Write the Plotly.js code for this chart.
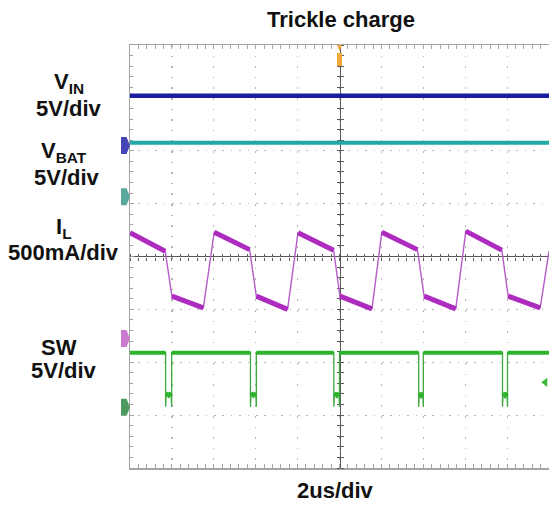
<!DOCTYPE html>
<html>
<head>
<meta charset="utf-8">
<script src="https://cdn.plot.ly/plotly-3.0.1.min.js"></script>
<style>html,body{margin:0;padding:0;background:#fff;}#chart{width:549px;height:507px;}</style>
</head>
<body>
<div id="chart"></div>
<script>
// ---- Data (time in microseconds, level in screen divisions) ----
const vinTime = [0, 20];
const vinDiv = [3.04, 3.04];

const vbatTime = [0, 20];
const vbatDiv = [2.15, 2.15];

const ilTime = [0, 1.68, 2.0, 3.5, 4.02, 5.71, 6.03, 7.52, 8.02, 9.72, 10.02, 11.55, 12.02, 13.72, 14.04, 15.55, 16.03, 17.75, 18.05, 19.58, 20.0];
const ilDiv  = [0.45, 0.10, -0.75, -0.97, 0.46, 0.13, -0.75, -1.0, 0.45, 0.12, -0.75, -0.99, 0.46, 0.13, -0.75, -0.99, 0.48, 0.12, -0.75, -0.97, 0.10];

const swTime = [0,
  1.70, 1.70, 1.73, 1.85, 1.96, 1.99, 1.99,
  5.75, 5.75, 5.78, 5.89, 6.00, 6.03, 6.03,
  9.73, 9.73, 9.76, 9.87, 9.97, 10.0, 10.0,
  13.78, 13.78, 13.81, 13.89, 13.97, 14.0, 14.0,
  17.78, 17.78, 17.81, 17.90, 17.99, 18.02, 18.02,
  20];
const swDiv = [-1.82,
  -1.82, -2.84, -2.58, -2.63, -2.58, -2.84, -1.82,
  -1.82, -2.84, -2.58, -2.63, -2.58, -2.84, -1.82,
  -1.82, -2.84, -2.58, -2.63, -2.58, -2.84, -1.82,
  -1.82, -2.84, -2.58, -2.63, -2.58, -2.84, -1.82,
  -1.82, -2.84, -2.58, -2.63, -2.58, -2.84, -1.82,
  -1.82];

// channel ground reference levels (divisions): VIN, VBAT, IL, SW
const groundLevels = [2.1, 1.13, -1.55, -2.85];
const triggerTime = [10];
const triggerLevel = [-2.38];

const titleText = 'Trickle charge';
const timebaseText = '2us/div';
const channelLabels = ['V<sub>IN</sub>', '5V/div', 'V<sub>BAT</sub>', '5V/div', 'I<sub>L</sub>', '500mA/div', 'SW', '5V/div'];

// ---- Styling / layout ----
const W = 549, H = 507, ML = 130, MR = 0, MT = 45, MB = 39;
const PW = W - ML - MR, PH = H - MT - MB;
const px = (x) => (x - ML) / PW;
const py = (y) => (H - MB - y) / PH;

const colors = {vin: '#1c1c9e', vbat: '#20aaa6', il: '#ad2bbf', ilThin: '#b45cc6', sw: '#2cb42c', swThin: '#3aa83a'};

function thick(xs, ys) {
  const ox = [xs[0]], oy = [ys[0]];
  for (let i = 1; i < xs.length; i++) {
    const dx = xs[i] - xs[i - 1], dy = ys[i] - ys[i - 1];
    if (dx === 0 || Math.abs(dy / dx) > 1.5) { ox.push(null); oy.push(null); }
    ox.push(xs[i]); oy.push(ys[i]);
  }
  return [ox, oy];
}

const base = {type: 'scatter', mode: 'lines', hoverinfo: 'skip', showlegend: false, connectgaps: false};
const ilT = thick(ilTime, ilDiv);
const swT = thick(swTime, swDiv);

const traces = [
  Object.assign({}, base, {x: vinTime, y: vinDiv, line: {color: colors.vin, width: 4.5}}),
  Object.assign({}, base, {x: vbatTime, y: vbatDiv, line: {color: colors.vbat, width: 4}}),
  Object.assign({}, base, {x: ilTime, y: ilDiv, line: {color: colors.ilThin, width: 1.4}}),
  Object.assign({}, base, {x: ilT[0], y: ilT[1], line: {color: colors.il, width: 5}}),
  Object.assign({}, base, {x: swTime, y: swDiv, line: {color: colors.swThin, width: 1.3}}),
  Object.assign({}, base, {x: swT[0], y: swT[1], line: {color: colors.sw, width: 4}}),
  Object.assign({}, base, {x: [19.82], y: triggerLevel, mode: 'markers', cliponaxis: false,
    marker: {symbol: 'triangle-left', size: 8, color: '#3cb83c'}}),
  // carriers for the centre cross-hair tick axes
  Object.assign({}, base, {x: [null], y: [null], xaxis: 'x', yaxis: 'y2'}),
  Object.assign({}, base, {x: [null], y: [null], xaxis: 'x', yaxis: 'y3'}),
  Object.assign({}, base, {x: [null], y: [null], xaxis: 'x2', yaxis: 'y'}),
  Object.assign({}, base, {x: [null], y: [null], xaxis: 'x3', yaxis: 'y'})
];

const borderCol = '#a4a4a4', crossCol = '#5a5a5a', gridCol = '#b4b4b4';

const layout = {
  width: W, height: H,
  margin: {l: ML, r: MR, t: MT, b: MB, pad: 0},
  paper_bgcolor: '#ffffff', plot_bgcolor: '#ffffff',
  font: {family: 'Liberation Sans, Arial, sans-serif', color: '#111111', size: 22},
  xaxis: {range: [0, 20], tick0: 0, dtick: 2, showgrid: true, gridcolor: gridCol, gridwidth: 1.2, griddash: '1.6px,9px',
    zeroline: false, showline: true, linecolor: borderCol, linewidth: 1.5, mirror: 'allticks',
    ticks: 'inside', ticklen: 4, tickcolor: borderCol, tickwidth: 1,
    minor: {dtick: 0.4, tick0: 0, ticks: 'inside', ticklen: 3, tickcolor: borderCol, showgrid: false},
    showticklabels: false, fixedrange: true, layer: 'below traces'},
  yaxis: {range: [-4, 4], tick0: 0, dtick: 1, showgrid: true, gridcolor: gridCol, gridwidth: 1.2, griddash: '1.6px,6.8px',
    zeroline: true, zerolinecolor: crossCol, zerolinewidth: 1.4, showline: true, linecolor: borderCol, linewidth: 1.5, mirror: false,
    ticks: 'inside', ticklen: 4, tickcolor: borderCol,
    minor: {dtick: 0.2, tick0: 0, ticks: 'inside', ticklen: 3, tickcolor: borderCol, showgrid: false},
    showticklabels: false, fixedrange: true, layer: 'below traces'},
  yaxis2: {overlaying: 'y', anchor: 'free', position: 0.5, side: 'left', range: [-4, 4], tick0: 0, dtick: 1,
    showline: true, linecolor: crossCol, linewidth: 1.4, ticks: 'outside', ticklen: 3, tickcolor: crossCol,
    minor: {dtick: 0.2, tick0: 0, ticks: 'outside', ticklen: 3, tickcolor: crossCol, showgrid: false},
    showgrid: false, zeroline: false, showticklabels: false, fixedrange: true, layer: 'below traces'},
  yaxis3: {overlaying: 'y', anchor: 'free', position: 0.5, side: 'right', range: [-4, 4], tick0: 0, dtick: 1,
    showline: false, ticks: 'outside', ticklen: 3, tickcolor: crossCol,
    minor: {dtick: 0.2, tick0: 0, ticks: 'outside', ticklen: 3, tickcolor: crossCol, showgrid: false},
    showgrid: false, zeroline: false, showticklabels: false, fixedrange: true, layer: 'below traces'},
  xaxis2: {overlaying: 'x', anchor: 'free', position: 0.5, side: 'bottom', range: [0, 20], tick0: 0, dtick: 2,
    showline: false, ticks: 'outside', ticklen: 3, tickcolor: crossCol,
    minor: {dtick: 0.4, tick0: 0, ticks: 'outside', ticklen: 3, tickcolor: crossCol, showgrid: false},
    showgrid: false, zeroline: false, showticklabels: false, fixedrange: true, layer: 'below traces'},
  xaxis3: {overlaying: 'x', anchor: 'free', position: 0.5, side: 'top', range: [0, 20], tick0: 0, dtick: 2,
    showline: false, ticks: 'outside', ticklen: 3, tickcolor: crossCol,
    minor: {dtick: 0.4, tick0: 0, ticks: 'outside', ticklen: 3, tickcolor: crossCol, showgrid: false},
    showgrid: false, zeroline: false, showticklabels: false, fixedrange: true, layer: 'below traces'},
  shapes: [],
  annotations: []
};

// channel ground markers
const markerColors = ['#4444b4', '#5aa89c', '#cc7ad0', '#4f9a5e'];
groundLevels.forEach((g, i) => {
  const x0 = px(121), x1 = px(126.5), x2 = px(130);
  const h = 0.16;
  layout.shapes.push({type: 'path', xref: 'paper', yref: 'y',
    path: `M ${x0} ${g - h} L ${x1} ${g - h} L ${x2} ${g} L ${x1} ${g + h} L ${x0} ${g + h} Z`,
    fillcolor: markerColors[i], line: {width: 0}, layer: 'above'});
});

// trigger position marker (orange) at top of screen
triggerTime.forEach((t) => {
  layout.shapes.push({type: 'line', xref: 'x', yref: 'y', x0: t, x1: t, y0: 3.6, y1: 3.85,
    line: {color: '#f2a93b', width: 5}});
  layout.shapes.push({type: 'path', xref: 'x', yref: 'paper',
    path: `M ${t - 0.12} 1.0 L ${t + 0.12} 1.0 L ${t} 0.985 Z`, fillcolor: '#f2a93b', line: {width: 0}});
});

function ann(text, x, y, size) {
  layout.annotations.push({text: '<b>' + text + '</b>', xref: 'paper', yref: 'paper', x: px(x), y: py(y),
    xanchor: 'center', yanchor: 'middle', showarrow: false, font: {size: size || 22, color: '#111111'}});
}
ann(titleText, 341, 19.5, 22);
ann(timebaseText, 335, 490, 22);
const labelPos = [[69, 83], [68.5, 108], [64, 152], [66.5, 177.5], [63.5, 228], [63, 252], [59, 347.5], [64, 370]];
channelLabels.forEach((t, i) => ann(t, labelPos[i][0], labelPos[i][1], 22));

Plotly.newPlot('chart', traces, layout, {displayModeBar: false, staticPlot: true});
</script>
</body>
</html>
